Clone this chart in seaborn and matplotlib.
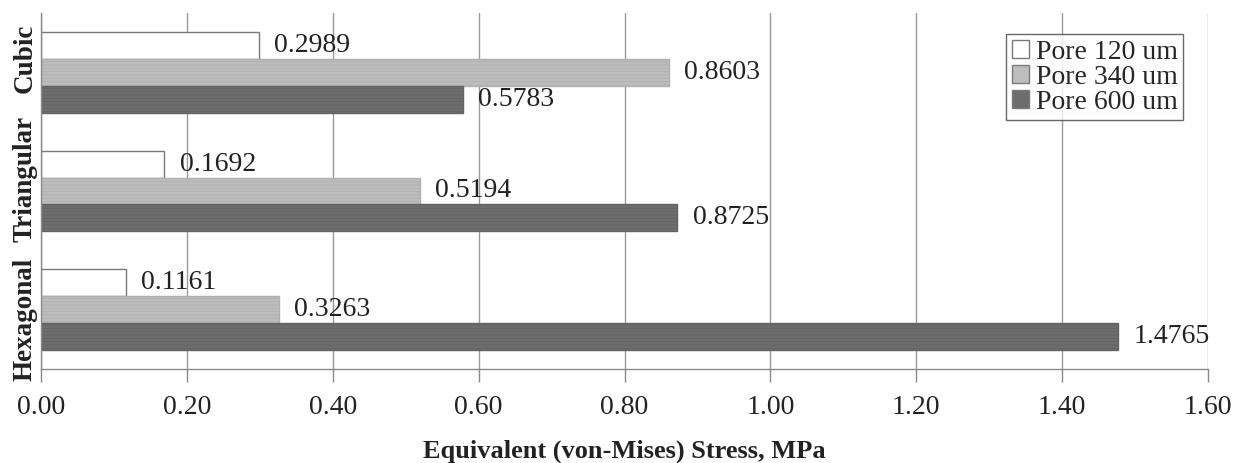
import matplotlib
matplotlib.use("Agg")
import matplotlib.pyplot as plt
import seaborn as sns
import pandas as pd

categories = ["Cubic", "Triangular", "Hexagonal"]
series = ["Pore 120 um", "Pore 340 um", "Pore 600 um"]
pore120 = [0.2989, 0.1692, 0.1161]
pore340 = [0.8603, 0.5194, 0.3263]
pore600 = [0.5783, 0.8725, 1.4765]
xticks = [0.0, 0.2, 0.4, 0.6, 0.8, 1.0, 1.2, 1.4, 1.6]

rows = []
for s, vals in zip(series, [pore120, pore340, pore600]):
    for c, v in zip(categories, vals):
        rows.append({"Structure": c, "Pore": s, "Stress": v})
df = pd.DataFrame(rows)

sns.set_theme(style="white")
plt.rcParams["font.family"] = ["Liberation Serif", "DejaVu Serif"]
plt.rcParams["hatch.linewidth"] = 0.6

fig = plt.figure(figsize=(12.42, 4.63), dpi=100)
ax = fig.add_axes([0.033, 0.203, 0.9397, 0.769])

palette = {"Pore 120 um": "#ffffff", "Pore 340 um": "#bdbdbd", "Pore 600 um": "#6d6d6d"}
sns.barplot(data=df, y="Structure", x="Stress", hue="Pore", order=categories,
            hue_order=series, palette=palette, orient="h", width=0.68,
            edgecolor="#7a7a7a", linewidth=1.0, ax=ax, errorbar=None, saturation=1)

hatch_colors = {0: None, 1: "#b0b0b0", 2: "#636363"}
for i, cont in enumerate(ax.containers):
    for p in cont:
        if i > 0:
            p.set_hatch("-----")
            p.set_edgecolor(hatch_colors[i])
    ax.bar_label(cont, labels=[f"{v:.4f}" for v in cont.datavalues], padding=11,
                 fontsize=20, color="#222222")

ax.set_xlim(0, 1.6)
ax.set_ylim(2.5, -0.5)
ax.set_xticks(xticks)
ax.set_xticklabels([f"{t:.2f}" for t in xticks], fontsize=20, color="#222222")
ax.set_yticks(range(len(categories)))
ax.set_yticklabels([])
# Excel-like rotated category labels, slightly shifted (points: up positive)
label_shift_pt = [10, 9, -7]
ytrans = ax.get_yaxis_transform()
for idx, (cat, dy) in enumerate(zip(categories, label_shift_pt)):
    ax.annotate(cat, xy=(0, idx), xycoords=ytrans, xytext=(-2.5, dy),
                textcoords="offset points", rotation=90, ha="right", va="center",
                fontsize=19.5, fontweight="bold", color="#222222",
                annotation_clip=False)
ax.tick_params(axis="x", which="major", direction="out", length=9, width=1,
               color="#8a8a8a", pad=10, bottom=True)
ax.tick_params(axis="y", length=0, pad=4)
ax.grid(axis="x", color="#9a9a9a", linewidth=1.0)
ax.set_axisbelow(True)
for s in ["top", "right"]:
    ax.spines[s].set_visible(False)
for s in ["left", "bottom"]:
    ax.spines[s].set_color("#8a8a8a")
    ax.spines[s].set_linewidth(1.0)
ax.set_ylabel("")
ax.set_xlabel("Equivalent (von-Mises) Stress, MPa", fontsize=19, fontweight="bold",
              color="#222222", labelpad=14)

leg = ax.legend(loc="upper right", bbox_to_anchor=(0.9786, 0.941), fontsize=20,
                frameon=True, fancybox=False, edgecolor="#444444",
                handlelength=0.6, handleheight=0.6, handletextpad=0.25,
                borderpad=0.2, labelspacing=0.0, borderaxespad=0)
leg.get_frame().set_linewidth(1.0)
for h in leg.legend_handles:
    h.set_hatch(None)
    h.set_edgecolor("#7a7a7a")

fig.savefig("out.png", dpi=100)
